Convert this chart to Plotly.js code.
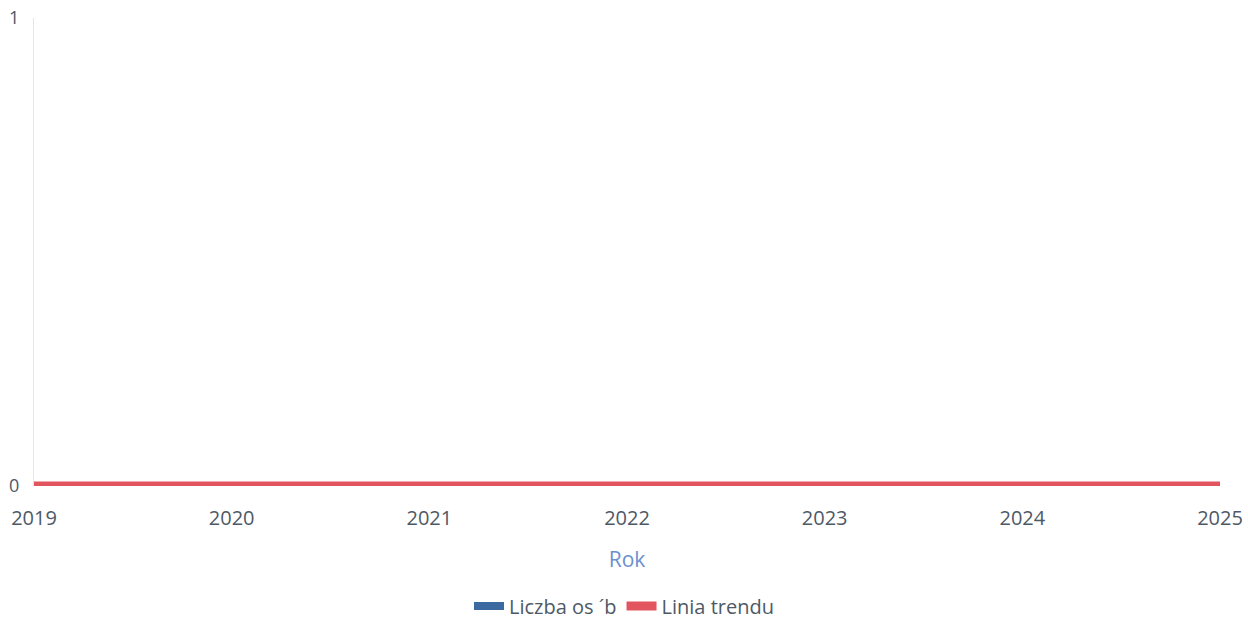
<!DOCTYPE html>
<html>
<head>
<meta charset="utf-8">
<script src="https://cdn.plot.ly/plotly-3.0.1.min.js"></script>
<style>html,body{margin:0;padding:0;background:#fff;}#chart{width:1248px;height:619px;}</style>
</head>
<body>
<div id="chart"></div>
<script>
const years = [2019, 2020, 2021, 2022, 2023, 2024, 2025];
const liczbaOsob = [0, 0, 0, 0, 0, 0, 0];
const liniaTrendu = [0, 0, 0, 0, 0, 0, 0];
const seriesNames = ["Liczba os \u00b4b", "Linia trendu"];

const data = [
  {
    type: 'scatter',
    mode: 'lines',
    x: years,
    y: liczbaOsob,
    name: seriesNames[0],
    line: {color: '#3a6aa0', width: 8}
  },
  {
    type: 'scatter',
    mode: 'lines',
    x: years,
    y: liniaTrendu,
    name: seriesNames[1],
    line: {color: '#e2555e', width: 9}
  }
];

const layout = {
  width: 1248,
  height: 619,
  margin: {l: 34, r: 28, t: 18, b: 133, autoexpand: false},
  paper_bgcolor: '#ffffff',
  plot_bgcolor: '#ffffff',
  font: {family: 'Open Sans, sans-serif', size: 20, color: '#4e5966'},
  showlegend: true,
  legend: {orientation: 'h', x: 0.5, xanchor: 'center', xref: 'container', yref: 'container', y: 0.021, yanchor: 'middle', font: {size: 20, color: '#4e5966'}, itemwidth: 30, traceorder: 'normal'},
  xaxis: {
    range: [2019, 2025],
    tickmode: 'array',
    tickvals: years,
    ticktext: years.map(String),
    showgrid: false,
    zeroline: false,
    showline: false,
    ticks: '',
    ticklabelstandoff: 18,
    tickfont: {size: 20, color: '#4e5966'},
    title: {text: 'Rok', font: {size: 21, color: '#6b8fcf'}, standoff: 22}
  },
  yaxis: {
    range: [0, 1],
    tickmode: 'array',
    tickvals: [0, 1],
    ticktext: ['0', '1'],
    showgrid: false,
    zeroline: false,
    showline: true,
    linecolor: '#e4e6ee',
    linewidth: 1,
    ticks: '',
    ticklabelstandoff: 10,
    tickfont: {size: 18, color: '#4e5966'}
  }
};

Plotly.newPlot('chart', data, layout, {displayModeBar: false, staticPlot: true});
</script>
</body>
</html>
